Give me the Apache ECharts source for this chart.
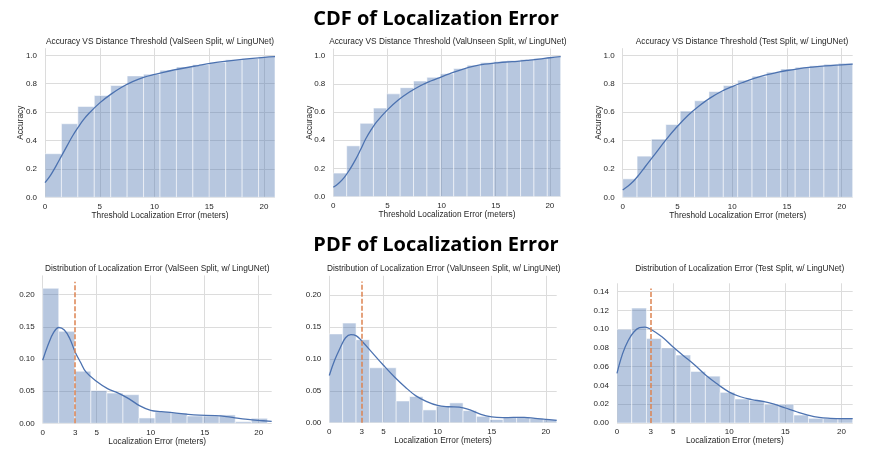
<!DOCTYPE html>
<html>
<head>
<meta charset="utf-8">
<script src="https://cdn.jsdelivr.net/npm/echarts@6/dist/echarts.min.js"></script>
<style>
    html, body { margin: 0; padding: 0; background: #fff; }
    #main { width: 872px; height: 453px; }
</style>
</head>
<body>
<div id="main"></div>
<script>
// histogram heights (bins run from 0 to binEnd, equal width)
var cdfSeenBins = [0.307, 0.518, 0.640, 0.717, 0.787, 0.855, 0.867, 0.895, 0.918, 0.934, 0.951, 0.968, 0.978, 0.990];
var cdfUnseenBins = [0.167, 0.360, 0.520, 0.628, 0.729, 0.773, 0.820, 0.846, 0.871, 0.909, 0.932, 0.951, 0.958, 0.965, 0.972, 0.981, 0.990];
var cdfTestBins = [0.130, 0.290, 0.410, 0.513, 0.607, 0.680, 0.745, 0.787, 0.825, 0.853, 0.881, 0.904, 0.916, 0.927, 0.937, 0.944];
var pdfSeenBins = [0.210, 0.143, 0.081, 0.051, 0.047, 0.0445, 0.0083, 0.018, 0.016, 0.0114, 0.0114, 0.013, 0.0026, 0.0078];
var pdfUnseenBins = [0.139, 0.156, 0.130, 0.086, 0.086, 0.034, 0.041, 0.020, 0.026, 0.031, 0.019, 0.010, 0.005, 0.008, 0.009, 0.007, 0.005];
var pdfTestBins = [0.100, 0.1226, 0.090, 0.080, 0.0725, 0.055, 0.050, 0.0327, 0.0256, 0.024, 0.020, 0.020, 0.0085, 0.005, 0.005, 0.005];
var binEnds = [21, 21, 21, 20.8, 21, 21];

// smoothed curves (cumulative kde on top, kde on bottom)
var cdfSeenX = [0, 0.5, 1, 1.5, 2, 2.5, 3, 3.5, 4, 5, 6, 7, 8, 9, 10, 12, 14, 16, 18, 20, 21];
var cdfSeenY = [0.103, 0.155, 0.22, 0.29, 0.36, 0.43, 0.49, 0.545, 0.59, 0.665, 0.725, 0.775, 0.815, 0.845, 0.865, 0.90, 0.928, 0.953, 0.972, 0.985, 0.99];
var cdfUnseenX = [0, 0.5, 1, 1.5, 2, 2.5, 3, 3.5, 4, 5, 6, 7, 8, 9, 10, 11, 12, 13, 14, 15, 16, 17, 18, 19, 20, 21];
var cdfUnseenY = [0.066, 0.095, 0.135, 0.19, 0.255, 0.33, 0.41, 0.475, 0.53, 0.615, 0.685, 0.74, 0.785, 0.82, 0.85, 0.88, 0.905, 0.925, 0.94, 0.948, 0.955, 0.96, 0.967, 0.975, 0.985, 0.993];
var cdfTestX = [0, 0.5, 1, 1.5, 2, 2.5, 3, 4, 5, 6, 7, 8, 9, 10, 11, 12, 13, 14, 15, 16, 17, 18, 19, 20, 21];
var cdfTestY = [0.052, 0.08, 0.115, 0.16, 0.21, 0.26, 0.31, 0.41, 0.50, 0.58, 0.645, 0.70, 0.745, 0.78, 0.81, 0.837, 0.86, 0.878, 0.893, 0.905, 0.915, 0.922, 0.928, 0.933, 0.938];
var pdfSeenX = [0, 0.5, 1, 1.5, 2, 2.5, 3, 3.5, 4, 5, 6, 7, 8, 9, 10, 11, 12, 14, 16, 17, 18, 19, 20, 21.2];
var pdfSeenY = [0.098, 0.122, 0.141, 0.149, 0.145, 0.132, 0.111, 0.095, 0.080, 0.065, 0.054, 0.047, 0.038, 0.027, 0.020, 0.018, 0.0166, 0.013, 0.012, 0.0105, 0.008, 0.006, 0.0045, 0.003];
var pdfUnseenX = [0, 0.5, 1, 1.5, 2, 2.5, 3, 4, 5, 6, 7, 8, 9, 10, 11, 12, 13, 14, 15, 16, 17, 18, 19, 20, 21];
var pdfUnseenY = [0.074, 0.098, 0.117, 0.133, 0.138, 0.136, 0.128, 0.109, 0.090, 0.072, 0.056, 0.042, 0.033, 0.027, 0.025, 0.0245, 0.020, 0.013, 0.009, 0.0078, 0.0084, 0.0084, 0.0068, 0.0052, 0.0037];
var pdfTestX = [0, 0.5, 1, 1.5, 2, 2.5, 3, 4, 5, 6, 7, 8, 9, 10, 11, 12, 13, 14, 15, 16, 17, 18, 19, 20, 21];
var pdfTestY = [0.053, 0.074, 0.088, 0.097, 0.1016, 0.1023, 0.100, 0.092, 0.081, 0.071, 0.061, 0.050, 0.041, 0.033, 0.028, 0.025, 0.023, 0.020, 0.016, 0.012, 0.0085, 0.006, 0.005, 0.0046, 0.0046];

// threshold marker (3 m) and how high it is drawn
var thresholdX = 3;
var thresholdTops = [0.22, 0.221, 0.1435];

var titles = [
    'Accuracy VS Distance Threshold (ValSeen Split, w/ LingUNet)',
    'Accuracy VS Distance Threshold (ValUnseen Split, w/ LingUNet)',
    'Accuracy VS Distance Threshold (Test Split, w/ LingUNet)',
    'Distribution of Localization Error (ValSeen Split, w/ LingUNet)',
    'Distribution of Localization Error (ValUnseen Split, w/ LingUNet)',
    'Distribution of Localization Error (Test Split, w/ LingUNet)'
];
var cdfTicks = [0, 5, 10, 15, 20];
var pdfTicks = [0, 3, 5, 10, 15, 20];

var BLUE = '#4c72b0';
var FONT = '"Liberation Sans", Arial, sans-serif';
var GRID_C = '#dcdcdc';

// panel boxes
var grids = [
    {left: 45, top: 48.2, width: 230, height: 149.1},
    {left: 333.3, top: 48.6, width: 227.4, height: 148},
    {left: 622.7, top: 48.2, width: 230, height: 149.1},
    {left: 42.7, top: 275.4, width: 229, height: 147.9},
    {left: 329.3, top: 275.8, width: 227.4, height: 146.9},
    {left: 617, top: 283.3, width: 235.7, height: 139.7}
];
var xMax = [21, 21, 21, 21.2, 21, 21];
var yMax = [1.05, 1.05, 1.05, 0.23, 0.23, 0.149];
var yInt = [0.2, 0.2, 0.2, 0.05, 0.05, 0.02];
var yDigits = [1, 1, 1, 2, 2, 2];
var titleX = [160, 447.8, 742, 157.2, 443.8, 739.7];

var bins = [cdfSeenBins, cdfUnseenBins, cdfTestBins, pdfSeenBins, pdfUnseenBins, pdfTestBins];
var curveX = [cdfSeenX, cdfUnseenX, cdfTestX, pdfSeenX, pdfUnseenX, pdfTestX];
var curveY = [cdfSeenY, cdfUnseenY, cdfTestY, pdfSeenY, pdfUnseenY, pdfTestY];

var myChart = echarts.init(document.getElementById('main'), null, {renderer: 'canvas'});

var xAxes = [], yAxes = [], series = [], graphics = [];

function gridColors() {
    // only every 5th metre gets a visible grid line
    return [GRID_C, 'rgba(0,0,0,0)', 'rgba(0,0,0,0)', 'rgba(0,0,0,0)', 'rgba(0,0,0,0)'];
}

for (var i = 0; i < 6; i++) {
    var isCdf = i < 3;
    var ticks = isCdf ? cdfTicks : pdfTicks;
    xAxes.push({
        gridIndex: i,
        type: 'value',
        min: 0,
        max: xMax[i],
        interval: 1,
        axisLine: {show: false},
        axisTick: {show: false},
        axisLabel: {
            color: '#262626',
            fontSize: 8,
            fontFamily: FONT,
            margin: 5,
            formatter: (function (tk) {
                return function (v) {
                    return tk.indexOf(Math.round(v * 1000) / 1000) >= 0 ? String(v) : '';
                };
            })(ticks)
        },
        splitLine: {show: true, lineStyle: {color: gridColors(), width: 1}},
        name: isCdf ? 'Threshold Localization Error (meters)' : 'Localization Error (meters)',
        nameLocation: 'middle',
        nameGap: 14,
        nameTextStyle: {color: '#262626', fontSize: 8.3, fontFamily: FONT}
    });
    yAxes.push({
        gridIndex: i,
        type: 'value',
        min: 0,
        max: yMax[i],
        interval: yInt[i],
        axisLine: {show: false},
        axisTick: {show: false},
        axisLabel: {
            color: '#262626',
            fontSize: 8,
            fontFamily: FONT,
            margin: 8,
            showMaxLabel: false,
            formatter: (function (d) {
                return function (v) { return v.toFixed(d); };
            })(yDigits[i])
        },
        splitLine: {show: true, showMaxLine: false, lineStyle: {color: GRID_C, width: 1}},
        name: isCdf ? 'Accuracy' : '',
        nameLocation: 'middle',
        nameGap: 20,
        nameMoveOverlap: false,
        nameTextStyle: {color: '#262626', fontSize: 8.3, fontFamily: FONT}
    });

    // histogram bars
    var h = bins[i];
    var w = binEnds[i] / h.length;
    var barData = [];
    for (var k = 0; k < h.length; k++) {
        barData.push([k * w, (k + 1) * w, h[k]]);
    }
    series.push({
        type: 'custom',
        xAxisIndex: i,
        yAxisIndex: i,
        silent: true,
        data: barData,
        encode: {x: [0, 1], y: 2},
        renderItem: function (params, api) {
            var p0 = api.coord([api.value(0), api.value(2)]);
            var p1 = api.coord([api.value(1), 0]);
            return {
                type: 'rect',
                shape: {x: p0[0], y: p0[1], width: p1[0] - p0[0], height: p1[1] - p0[1]},
                style: {fill: 'rgba(76,114,176,0.4)', stroke: 'rgba(255,255,255,0.55)', lineWidth: 1}
            };
        }
    });

    // curve
    var pts = [];
    for (var j = 0; j < curveX[i].length; j++) {
        pts.push([curveX[i][j], curveY[i][j]]);
    }
    var lineSeries = {
        type: 'line',
        xAxisIndex: i,
        yAxisIndex: i,
        data: pts,
        smooth: 0.4,
        showSymbol: false,
        silent: true,
        lineStyle: {color: BLUE, width: 1.3},
        z: 3
    };
    if (!isCdf) {
        lineSeries.markLine = {
            silent: true,
            symbol: ['none', 'none'],
            label: {show: false},
            lineStyle: {color: '#dd8452', type: [5, 2], width: 1.5},
            data: [[{coord: [thresholdX, 0]}, {coord: [thresholdX, thresholdTops[i - 3]]}]]
        };
    }
    series.push(lineSeries);

    graphics.push({
        type: 'text',
        x: titleX[i],
        y: isCdf ? 42 : 269,
        style: {
            text: titles[i],
            align: 'center', verticalAlign: 'middle',
            textAlign: 'center', textVerticalAlign: 'middle',
            font: '8.3px ' + FONT,
            fill: '#262626'
        }
    });
}

graphics.push({
    type: 'text', x: 436, y: 19,
    style: {text: 'CDF of Localization Error', align: 'center', verticalAlign: 'middle',
        textAlign: 'center', textVerticalAlign: 'middle',
        font: 'bold 20px "Open Sans", "Noto Sans", sans-serif', fill: '#000'}
});
graphics.push({
    type: 'text', x: 436, y: 245,
    style: {text: 'PDF of Localization Error', align: 'center', verticalAlign: 'middle',
        textAlign: 'center', textVerticalAlign: 'middle',
        font: 'bold 20px "Open Sans", "Noto Sans", sans-serif', fill: '#000'}
});

var option = {
    animation: false,
    backgroundColor: '#fff',
    grid: grids,
    xAxis: xAxes,
    yAxis: yAxes,
    series: series,
    graphic: graphics
};
myChart.setOption(option);
</script>
</body>
</html>
